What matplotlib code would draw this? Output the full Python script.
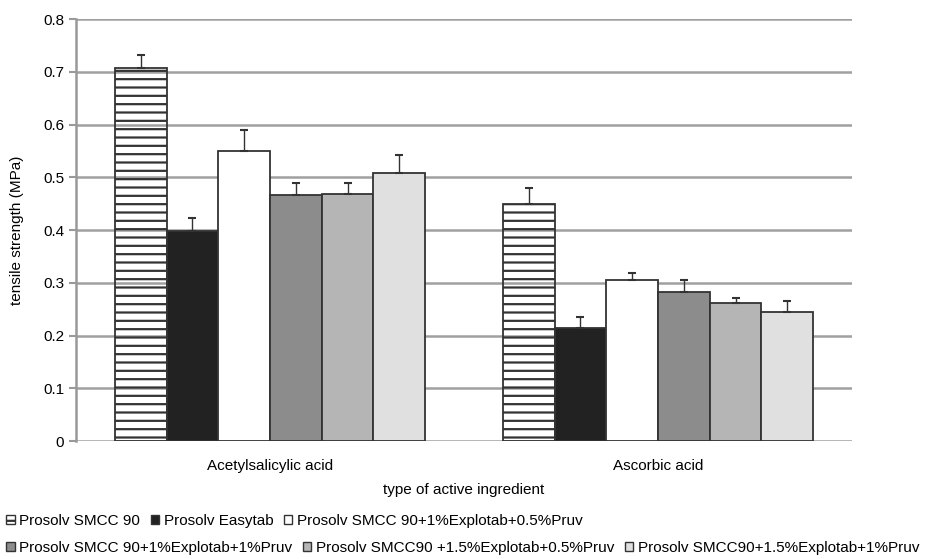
import matplotlib
matplotlib.use('Agg')
import matplotlib.pyplot as plt
import numpy as np
from matplotlib.patches import Patch

plt.rcParams['font.family'] = ['Liberation Sans', 'DejaVu Sans']
plt.rcParams['hatch.linewidth'] = 1.6

categories = ['Acetylsalicylic acid', 'Ascorbic acid']
series = ['Prosolv SMCC 90', 'Prosolv Easytab', 'Prosolv SMCC 90+1%Explotab+0.5%Pruv',
          'Prosolv SMCC 90+1%Explotab+1%Pruv', 'Prosolv SMCC90 +1.5%Explotab+0.5%Pruv',
          'Prosolv SMCC90+1.5%Explotab+1%Pruv']
values = [[0.707, 0.449],
          [0.398, 0.214],
          [0.550, 0.306],
          [0.467, 0.282],
          [0.469, 0.262],
          [0.508, 0.245]]
errors = [[0.025, 0.030],
          [0.024, 0.021],
          [0.040, 0.012],
          [0.022, 0.024],
          [0.020, 0.010],
          [0.034, 0.020]]
colors = ['none', '#222222', '#ffffff', '#8c8c8c', '#b5b5b5', '#e0e0e0']
hatches = ['--', None, None, None, None, None]

fig = plt.figure(figsize=(9.45, 5.59), dpi=100)
ax = fig.add_axes([0.0804, 0.211, 0.8212, 0.755])

x = np.arange(len(categories))
w = 0.8 / len(series)
for i in range(len(series)):
    pos = x - 0.4 + w * (i + 0.5)
    ax.bar(pos, values[i], w, color=colors[i], edgecolor='#333333', linewidth=1.3,
           hatch=hatches[i], zorder=3)
    ax.errorbar(pos, values[i], yerr=[np.zeros(2), errors[i]], fmt='none',
                ecolor='#333333', elinewidth=1, capsize=3, capthick=1.5, zorder=4)

ax.set_xlim(-0.5, 1.5)
ax.set_ylim(0, 0.8)
ax.set_yticks(np.arange(0, 0.81, 0.1))
ax.set_yticklabels(['0', '0.1', '0.2', '0.3', '0.4', '0.5', '0.6', '0.7', '0.8'])
ax.set_xticks(x)
ax.set_xticklabels(categories)
ax.tick_params(axis='x', length=0, labelsize=11, pad=13)
ax.tick_params(axis='y', length=5, color='#999999', width=1.5, labelsize=11)
ax.grid(axis='y', color='#a0a0a0', linewidth=1.8, zorder=0)
ax.set_axisbelow(True)
for s in ['top', 'right', 'bottom']:
    ax.spines[s].set_visible(False)
ax.spines['left'].set_color('#999999')
ax.spines['left'].set_linewidth(1.8)
ax.set_ylabel('tensile strength (MPa)', fontsize=11, labelpad=14)
ax.set_xlabel('type of active ingredient', fontsize=11, labelpad=7)

handles = [Patch(facecolor='white' if c == 'none' else c, edgecolor='#333333',
                 hatch=h, linewidth=1) for c, h in zip(colors, hatches)]
leg1 = fig.legend(handles[:3], series[:3], loc='upper left', bbox_to_anchor=(0.0, 0.092),
                  ncol=3, frameon=False, fontsize=11, handlelength=0.55, handleheight=0.55,
                  handletextpad=0.3, columnspacing=0.7, borderaxespad=0)
leg2 = fig.legend(handles[3:], series[3:], loc='upper left', bbox_to_anchor=(0.0, 0.044),
                  ncol=3, frameon=False, fontsize=11, handlelength=0.55, handleheight=0.55,
                  handletextpad=0.3, columnspacing=0.7, borderaxespad=0)

fig.savefig('out.png', dpi=100)
